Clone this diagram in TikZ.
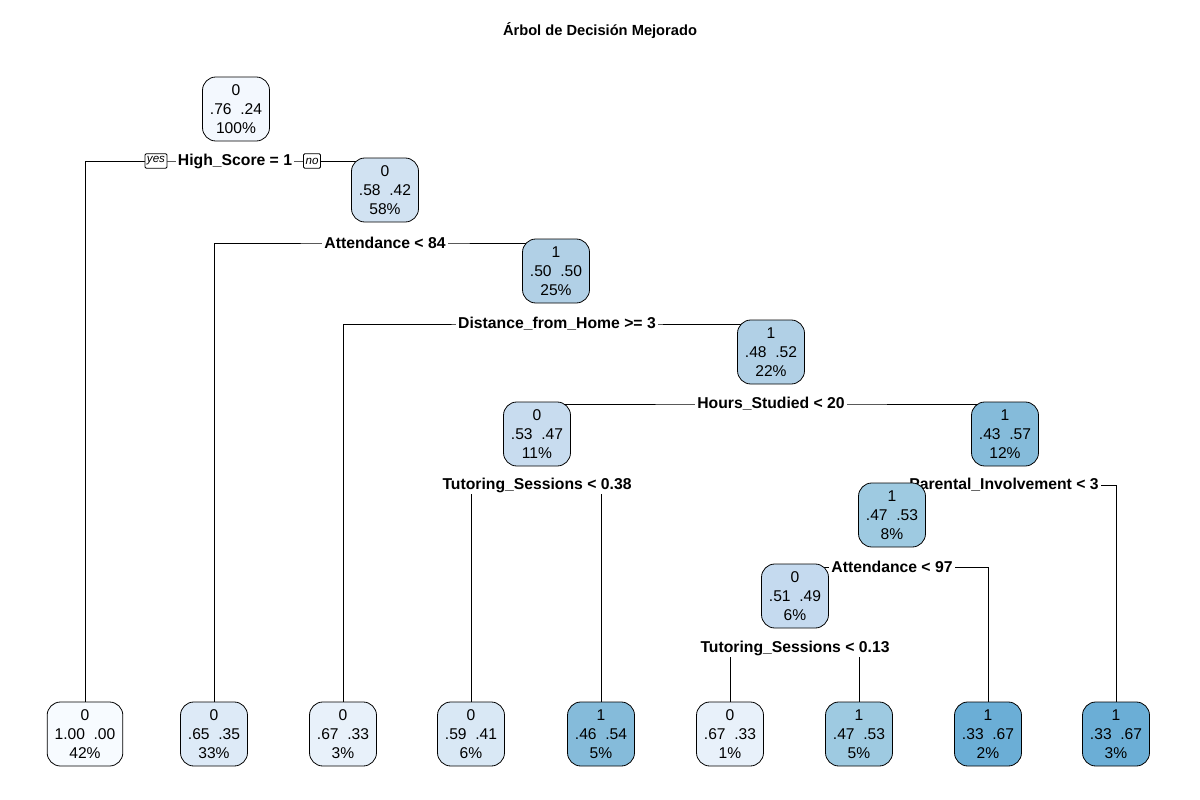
\documentclass[tikz,border=0pt]{standalone}
\usepackage{fontspec}
\setmainfont{Liberation Sans}
\usetikzlibrary{shapes,backgrounds}
\definecolor{p00}{RGB}{247,251,255}
\definecolor{p24}{RGB}{243,248,254}
\definecolor{p33}{RGB}{232,241,250}
\definecolor{p35}{RGB}{221,234,247}
\definecolor{p41}{RGB}{217,232,245}
\definecolor{p42}{RGB}{209,226,242}
\definecolor{p47}{RGB}{200,220,239}
\definecolor{p49}{RGB}{197,218,239}
\definecolor{p50}{RGB}{177,208,230}
\definecolor{p53}{RGB}{158,202,225}
\definecolor{p57}{RGB}{133,187,218}
\definecolor{p67}{RGB}{107,174,214}
\tikzstyle{block} = [rectangle, draw, rounded corners=10pt, align=center,
    inner xsep=5.6pt, inner ysep=2pt, minimum height=48pt,
    font=\fontsize{11.7}{14.25}\selectfont]
\tikzstyle{split} = [fill=white, inner sep=1.5pt, font=\fontsize{11.8}{14}\selectfont\bfseries]
\tikzstyle{tag} = [rectangle, draw, fill=white, rounded corners=1pt, inner xsep=1.5pt,
    inner ysep=1pt, minimum height=11pt, font=\fontsize{8.7}{10}\selectfont\itshape]

\begin{document}
\begin{tikzpicture}[x=0.75pt, y=-0.75pt, line width=0.6pt]
	\useasboundingbox (0,0) rectangle (1200,800);
	\node [font=\fontsize{11}{13}\selectfont\bfseries] (title) at (600,31) {Árbol de Decisión Mejorado};

	% split labels
	\node [split] (highscore) at (235,161) {High\_Score = 1};
	\node [split] (attend84) at (385,243) {Attendance < 84};
	\node [split] (distance) at (557,324) {Distance\_from\_Home >= 3};
	\node [split] (hours) at (771,404) {Hours\_Studied < 20};
	\node [split] (tutor38) at (537,485) {Tutoring\_Sessions < 0.38};
	\node [split] (parental) at (1004,485) {Parental\_Involvement < 3};
	\node [split] (attend97) at (892,567) {Attendance < 97};
	\node [split] (tutor13) at (795,648) {Tutoring\_Sessions < 0.13};
	\node [tag] (yes) at (156,161) {yes};
	\node [tag] (no) at (312,161) {no};

	% inner nodes
	\node [block, fill=p24] (root) at (236,109) {0\\.76\ \ .24\\100\%};
	\node [block, fill=p42] (n58) at (385,190) {0\\.58\ \ .42\\58\%};
	\node [block, fill=p50] (n25) at (556,271) {1\\.50\ \ .50\\25\%};
	\node [block, fill=p50] (n22) at (771,352) {1\\.48\ \ .52\\22\%};
	\node [block, fill=p47] (n11) at (537,434) {0\\.53\ \ .47\\11\%};
	\node [block, fill=p57] (n12) at (1005,434) {1\\.43\ \ .57\\12\%};
	\node [block, fill=p53] (n8) at (892,515) {1\\.47\ \ .53\\8\%};
	\node [block, fill=p49] (n6) at (795,596) {0\\.51\ \ .49\\6\%};

	% leaves
	\node [block, fill=p00] (leafA) at (85,734) {0\\1.00\ \ .00\\42\%};
	\node [block, fill=p35] (leafB) at (214,734) {0\\.65\ \ .35\\33\%};
	\node [block, fill=p33] (leafC) at (343,734) {0\\.67\ \ .33\\3\%};
	\node [block, fill=p41] (leafD) at (471,734) {0\\.59\ \ .41\\6\%};
	\node [block, fill=p57] (leafE) at (601,734) {1\\.46\ \ .54\\5\%};
	\node [block, fill=p33] (leafF) at (730,734) {0\\.67\ \ .33\\1\%};
	\node [block, fill=p53] (leafG) at (859,734) {1\\.47\ \ .53\\5\%};
	\node [block, fill=p67] (leafH) at (988,734) {1\\.33\ \ .67\\2\%};
	\node [block, fill=p67] (leafI) at (1116,734) {1\\.33\ \ .67\\3\%};

	\begin{scope}[on background layer]
        \draw (leafA.north) |- (highscore.center) -| (n58.center);
        \draw (leafB.north) |- (attend84.center) -| (n25.center);
        \draw (leafC.north) |- (distance.center) -| (n22.center);
        \draw (n11.center) |- (hours.center) -| (n12.center);
        \draw (leafD.north) |- (tutor38.center) -| (leafE.north);
        \draw (n8.center) |- (parental.center) -| (leafI.north);
        \draw (n6.center) |- (attend97.center) -| (leafH.north);
        \draw (leafF.north) |- (tutor13.center) -| (leafG.north);
	\end{scope}
\end{tikzpicture}
\end{document}
